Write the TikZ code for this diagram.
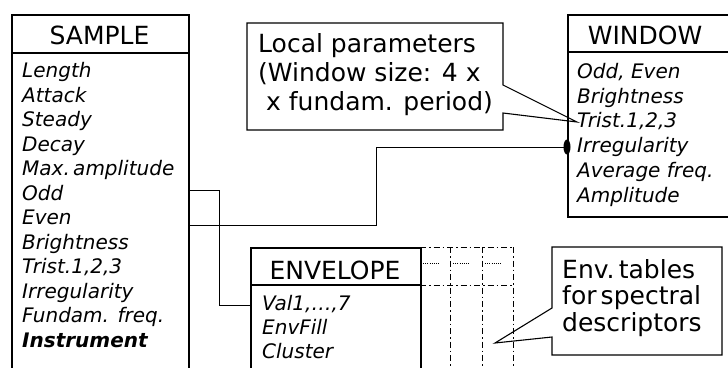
\documentclass[tikz,border=0pt]{standalone}
\usepackage{fontspec}
\setmainfont{DejaVu Sans}
\usetikzlibrary{positioning}

\begin{document}
\begin{tikzpicture}[x=1pt, y=-1pt,
    box/.style={draw, line width=1.6pt, anchor=north west, inner sep=0pt},
    rule/.style={line width=1.6pt},
    link/.style={line width=0.9pt},
    note/.style={line width=1.1pt, line join=miter},
    head/.style={inner sep=0pt, font=\fontsize{25}{29}\selectfont},
    row/.style={anchor=west, inner sep=0pt, text height=15pt, text depth=4pt,
        font=\fontsize{20}{24}\selectfont\itshape},
    notetext/.style={anchor=west, align=left, inner sep=0pt},
    backtable/.style={line width=0.9pt, dash pattern=on 6pt off 3pt on 1.5pt off 3pt},
  ]
    \clip (0,0) rectangle (728,367);

    % SAMPLE table
    \node[box, minimum width=177pt, minimum height=370pt] (samplebox) at (11,14) {};
    \draw[rule] (samplebox.west |- 0,53) -- (samplebox.east |- 0,53);
    \node[head] (sample) at (99.5,35) {SAMPLE};
    \node[row] (length) at (22,72) {Length};
    \node[row] (attack) at (22,96.5) {Attack};
    \node[row] (steady) at (22,121) {Steady};
    \node[row] (decay) at (22,145.5) {Decay};
    \node[row] (maxamp) at (22,170) {Max.\,amplitude};
    \node[row] (odd) at (22,194.5) {Odd};
    \node[row] (even) at (22,219) {Even};
    \node[row] (bright) at (22,243.5) {Brightness};
    \node[row] (trists) at (22,268) {Trist.1,2,3};
    \node[row] (irregs) at (22,292.5) {Irregularity};
    \node[row] (fundam) at (22,317) {Fundam. freq.};
    \node[row, font=\fontsize{20}{24}\selectfont\bfseries\itshape] (instr) at (22,341.5) {Instrument};

    % WINDOW table
    \node[box, minimum width=180pt, minimum height=202pt] (winbox) at (567,14) {};
    \draw[rule] (winbox.west |- 0,52) -- (winbox.east |- 0,52);
    \node[head] (window) at (645,35) {WINDOW};
    \node[row] (oddeven) at (577,73) {Odd, Even};
    \node[row] (brightw) at (577,97.5) {Brightness};
    \node[row] (trist) at (577,122) {Trist.1,2,3};
    \node[row] (irreg) at (577,147) {Irregularity};
    \node[row] (avgfreq) at (577,172) {Average freq.};
    \node[row] (amp) at (577,196.5) {Amplitude};

    % ENVELOPE table and the tables behind it
    \foreach \x in {450,482,513}
        \draw[backtable] (\x,247) -- (\x,380);
    \draw[backtable] (420,247) -- (513,247);
    \draw[backtable] (420,285) -- (513,285);
    \foreach \x in {423,453,485}
        \draw[line width=0.6pt, dash pattern=on 1pt off 1.2pt] (\x,263) -- ++(17,0);
    \node[box, fill=white, minimum width=170pt, minimum height=140pt] (envbox) at (250,247) {};
    \draw[rule] (envbox.west |- 0,285) -- (envbox.east |- 0,285);
    \node[head] (envelope) at (335,270) {ENVELOPE};
    \node[row] (val) at (262,305) {Val1,\ldots,7};
    \node[row] (envfill) at (262,329) {EnvFill};
    \node[row] (cluster) at (262,353) {Cluster};

    % Links
    \coordinate (oddjog) at (219,0);
    \coordinate (evenjog) at (376,0);
    \draw[link] ([yshift=4pt]samplebox.east |- odd) -| (oddjog |- val) -- (envbox.west |- val);
    \draw[link] ([yshift=-6pt]samplebox.east |- even) -| (evenjog |- irreg) -- (winbox.west |- irreg);
    \fill (winbox.west |- irreg) ellipse (3.5 and 7.5);

    % Callouts
    \node[notetext, font=\fontsize{25}{29}\selectfont] (localnote) at (258,75)
        {Local parameters\\(Window size: 4 x\\\ x fundam. period)};
    \draw[note, fill=none] (247,23) -- (503,23) -- (503,85) -- (trist.west)
        -- (503,113) -- (503,130) -- (247,130) -- cycle;
    \coordinate (envtip) at (495,343);
    \node[notetext, font=\fontsize{25}{26.5}\selectfont] (envnote) at (562,298)
        {Env.\,tables\\for\,spectral\\descriptors};
    \draw[note] (552,247) -- (722,247) -- (722,355) -- (552,355) -- (552,337)
        -- (envtip) -- (552,308) -- cycle;
\end{tikzpicture}
\end{document}
